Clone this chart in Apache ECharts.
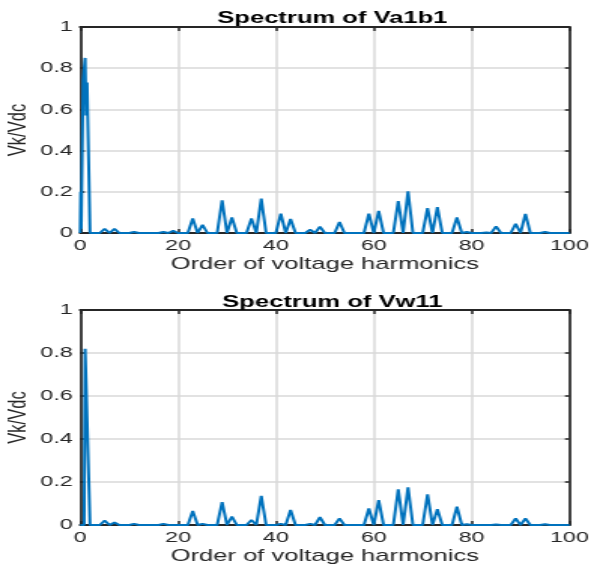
<!DOCTYPE html>
<html>
<head>
<meta charset="utf-8">
<script src="https://cdn.jsdelivr.net/npm/echarts@6/dist/echarts.min.js"></script>
<style>
  html, body { margin: 0; padding: 0; background: #fff; overflow: hidden; }
  #wrap { width: 589px; height: 570px; overflow: hidden; }
  #chart { height: 570px; transform-origin: 0 0; }
</style>
</head>
<body>
<div id="wrap"><div id="chart"></div></div>
<script>
// Harmonic spectra of two converter voltages, normalised to Vdc.
const titles = ['Spectrum of Va1b1', 'Spectrum of Vw11'];
const xLabel = 'Order of voltage harmonics';
const yLabel = 'Vk/Vdc';

// Fundamental region (fractional orders around k = 1)
const lowOrdersA = [0, 0.1, 0.2, 0.6, 1, 1.2, 1.4, 2];
const lowValsA   = [0, 0.2, 0.02, 0.74, 0.85, 0.57, 0.73, 0];
const lowOrdersB = [0, 0.8, 1, 2];
const lowValsB   = [0, 0, 0.82, 0];

// Odd harmonic orders; even orders are zero
const oddOrders = [3, 5, 7, 9, 11, 13, 15, 17, 19, 21, 23, 25, 27, 29, 31, 33, 35, 37, 39, 41,
                   43, 45, 47, 49, 51, 53, 55, 57, 59, 61, 63, 65, 67, 69, 71, 73, 75, 77, 79, 81,
                   83, 85, 87, 89, 91, 93, 95, 97, 99];
const va1b1 = [0, 0.02, 0.02, 0, 0.005, 0, 0, 0.005, 0.01, 0, 0.07, 0.04, 0, 0.159, 0.075, 0, 0.071, 0.167, 0, 0.094,
               0.068, 0, 0.016, 0.03, 0, 0.053, 0, 0, 0.094, 0.107, 0, 0.155, 0.202, 0, 0.121, 0.126, 0, 0.075, 0.005, 0,
               0.002, 0.032, 0, 0.044, 0.093, 0, 0.005, 0, 0];
const vw11  = [0, 0.02, 0.012, 0, 0.005, 0, 0, 0.005, 0, 0, 0.065, 0.005, 0, 0.106, 0.039, 0, 0.023, 0.135, 0, 0.005,
               0.07, 0, 0.005, 0.036, 0, 0.031, 0, 0, 0.077, 0.116, 0, 0.166, 0.175, 0, 0.143, 0.074, 0, 0.085, 0.003, 0,
               0, 0.002, 0, 0.03, 0.03, 0, 0.003, 0, 0];
const xTicks = { min: 0, max: 100, step: 20 };
const yTicks = { min: 0, max: 1, step: 0.2 };

function buildSeries(lowO, lowV, vals) {
  const pts = lowO.map((o, i) => [o, lowV[i]]);
  oddOrders.forEach((h, i) => {
    pts.push([h - 1, 0]);
    pts.push([h, vals[i]]);
  });
  pts.push([100, 0]);
  return pts;
}

// The figure is drawn narrow and stretched horizontally.
const SX = 1.5;
const W = 589 / SX;
const el = document.getElementById('chart');
el.style.width = W + 'px';
el.style.transform = 'scaleX(' + SX + ')';

const FONT = '"Liberation Sans", Arial, Helvetica, sans-serif';
const INK = '#262626';
const gridL = 80 / SX, gridR = (589 - 568) / SX;
const grids = [
  { left: gridL, right: gridR, top: 27, height: 206, outerBoundsMode: 'none', containLabel: false },
  { left: gridL, right: gridR, top: 310, height: 215, outerBoundsMode: 'none', containLabel: false }
];
const cx = gridL + (W - gridL - gridR) / 2;

const chart = echarts.init(el, null, { renderer: 'canvas', width: W, height: 570 });

const xAxes = [], yAxes = [], series = [], titleOpts = [];
[0, 1].forEach(g => {
  xAxes.push({
    type: 'value', gridIndex: g, min: xTicks.min, max: xTicks.max, interval: xTicks.step,
    position: 'bottom',
    axisLine: { show: true, onZero: false, lineStyle: { color: INK, width: 2 } },
    axisTick: { show: true, inside: true, length: 4, lineStyle: { color: INK, width: 1.5 } },
    axisLabel: { color: INK, fontSize: 15.5, fontFamily: FONT, margin: 5 },
    splitLine: { show: true, lineStyle: { color: '#d8d8d8', width: 1.5 } },
    name: xLabel, nameLocation: 'middle', nameGap: 23, nameMoveOverlap: false,
    nameTextStyle: { color: INK, fontSize: 17, fontFamily: FONT }
  });
  xAxes.push({
    type: 'value', gridIndex: g, min: xTicks.min, max: xTicks.max, interval: xTicks.step,
    position: 'top',
    axisLine: { show: true, onZero: false, lineStyle: { color: INK, width: 2 } },
    axisTick: { show: true, inside: true, length: 4, lineStyle: { color: INK, width: 1.5 } },
    axisLabel: { show: false }, splitLine: { show: false }
  });
  yAxes.push({
    type: 'value', gridIndex: g, min: yTicks.min, max: yTicks.max, interval: yTicks.step,
    position: 'left',
    axisLine: { show: true, onZero: false, lineStyle: { color: INK, width: 1.7 } },
    axisTick: { show: true, inside: true, length: 3, lineStyle: { color: INK, width: 1.5 } },
    axisLabel: { color: INK, fontSize: 15.5, fontFamily: FONT, margin: 5 },
    splitLine: { show: true, lineStyle: { color: '#d8d8d8', width: 1.5 } },
    name: yLabel, nameLocation: 'middle', nameGap: 32, nameMoveOverlap: false,
    nameTextStyle: { color: INK, fontSize: 16.5, fontFamily: FONT }
  });
  yAxes.push({
    type: 'value', gridIndex: g, min: yTicks.min, max: yTicks.max, interval: yTicks.step,
    position: 'right',
    axisLine: { show: true, onZero: false, lineStyle: { color: INK, width: 1.7 } },
    axisTick: { show: true, inside: true, length: 3, lineStyle: { color: INK, width: 1.5 } },
    axisLabel: { show: false }, splitLine: { show: false }
  });
  titleOpts.push({
    text: titles[g], left: cx, top: g === 0 ? 5 : 289, textAlign: 'center',
    textStyle: { color: '#000', fontSize: 17, fontWeight: 'bold', fontFamily: FONT }
  });
});

series.push({
  type: 'line', xAxisIndex: 0, yAxisIndex: 0, showSymbol: false, animation: false,
  data: buildSeries(lowOrdersA, lowValsA, va1b1),
  lineStyle: { color: '#0072BD', width: 2 }, z: 5
});
series.push({
  type: 'line', xAxisIndex: 2, yAxisIndex: 2, showSymbol: false, animation: false,
  data: buildSeries(lowOrdersB, lowValsB, vw11),
  lineStyle: { color: '#0072BD', width: 2 }, z: 5
});

chart.setOption({
  animation: false,
  backgroundColor: '#fff',
  title: titleOpts,
  grid: grids,
  xAxis: xAxes,
  yAxis: yAxes,
  series: series
});
</script>
</body>
</html>
